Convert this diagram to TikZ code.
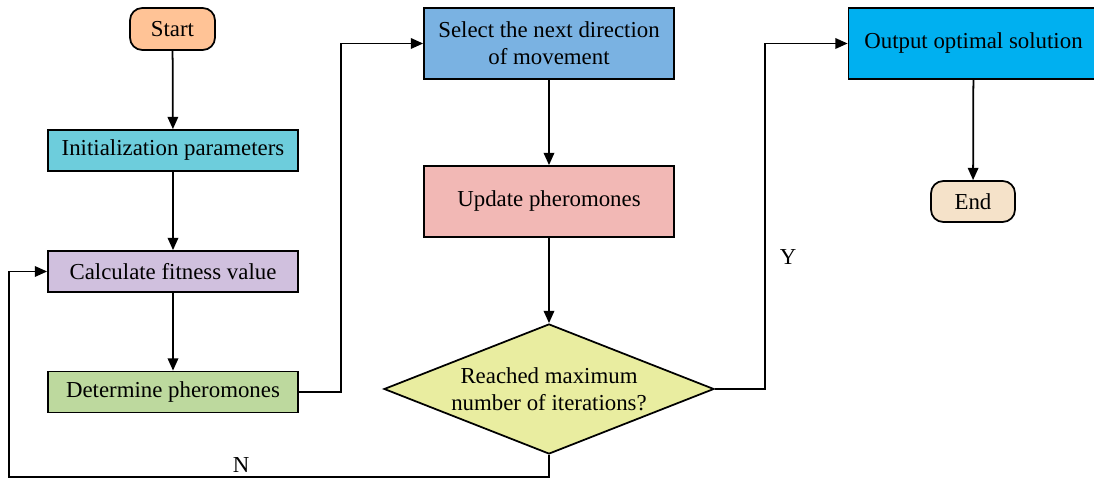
\documentclass[tikz,border=0pt]{standalone}
\usepackage{fontspec}
\setmainfont{Liberation Serif}
\usetikzlibrary{shapes.geometric, arrows.meta}

\definecolor{startc}{RGB}{255,195,150}
\definecolor{initc}{RGB}{109,205,220}
\definecolor{calcc}{RGB}{208,192,222}
\definecolor{detc}{RGB}{189,217,158}
\definecolor{selc}{RGB}{122,178,226}
\definecolor{updc}{RGB}{242,184,181}
\definecolor{decc}{RGB}{233,237,160}
\definecolor{outc}{RGB}{0,176,240}
\definecolor{endc}{RGB}{245,226,201}

\begin{document}
\begin{tikzpicture}[
  every node/.style={font=\fontsize{13}{15.5}\selectfont, align=center},
  stepbox/.style={draw, line width=1pt, minimum width=5cm, minimum height=0.82cm, inner sep=0pt},
  tallbox/.style={stepbox, minimum height=1.42cm},
  term/.style={draw, line width=1pt, rounded corners=7pt, minimum width=1.7cm, minimum height=0.84cm, inner sep=0pt},
  decision/.style={draw, diamond, aspect=2.54, line width=1pt, minimum width=6.6cm, minimum height=2.6cm, inner sep=0pt},
  arr/.style={line width=1pt, -{Triangle[length=7pt, width=6pt]}}
]
\useasboundingbox (0,0) rectangle (21.88,9.62);

%left column
\node[term, fill=startc] (start) at (3.45,9.04) {Start};
\node[stepbox, fill=initc] (init) at (3.46,6.61) {Initialization parameters};
\node[stepbox, fill=calcc] (calc) at (3.46,4.19) {Calculate fitness value};
\node[stepbox, fill=detc] (det) at (3.46,1.78) {Determine pheromones};

%middle column
\node[tallbox, fill=selc] (sel) at (10.98,8.75) {Select the next direction\\of movement};
\node[tallbox, fill=updc] (upd) at (10.98,5.59) {Update pheromones};
\node[decision, fill=decc] (dec) at (10.98,1.84) {Reached maximum\\number of iterations?};

%right column
\node[tallbox, fill=outc] (out) at (19.47,8.75) {Output optimal solution};
\node[term, fill=endc, minimum width=1.68cm, minimum height=0.82cm] (end) at (19.46,5.59) {End};

%bends
\coordinate (k1) at (6.82,8.75);
\coordinate (k2) at (15.3,8.75);
\coordinate (k3) at (0.18,0.08);

\draw[arr] (start) -- (init);
\draw[arr] (init) -- (calc);
\draw[arr] (calc) -- (det);
\draw[arr] (det.east) -| (k1) -- (sel.west);
\draw[arr] (sel) -- (upd);
\draw[arr] (upd) -- (dec);
\draw[arr] (dec.east) -| (k2) -- (out.west);
\draw[arr] (out) -- (end);
\draw[arr] (dec.south) |- (k3) |- (calc.west);

\node (yes) at (15.76,4.48) {Y};
\node (no) at (4.82,0.32) {N};

\end{tikzpicture}
\end{document}
